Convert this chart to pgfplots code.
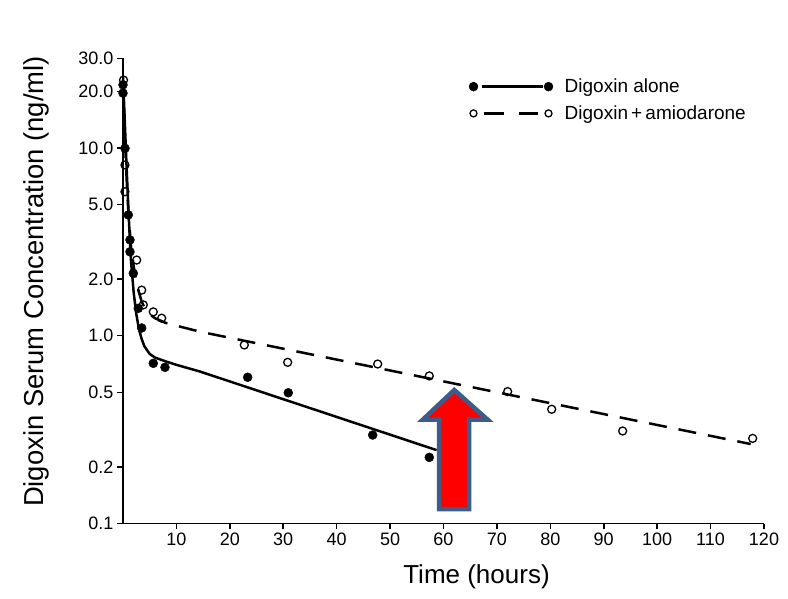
\documentclass[border=0pt]{standalone}
\usepackage{pgfplots}
\pgfplotsset{compat=1.18}
\usepackage{fontspec}
\setmainfont{Liberation Sans}
\definecolor{arrowred}{RGB}{255,0,0}
\definecolor{arrowedge}{RGB}{62,92,138}

\begin{document}
\begin{tikzpicture}
% page = 788 x 598 px, axis box from (123,523.5) to (764,58.4)
\useasboundingbox (-123pt,-74.5pt) rectangle (665pt,523.5pt);
\begin{axis}[
  scale only axis, width=641pt, height=465.1pt,
  xmin=0, xmax=120, ymode=log, ymin=0.1, ymax=30,
  clip=false,
  axis x line*=bottom, axis y line*=left,
  axis line style={line width=1.8pt, -},
  tick align=outside,
  xtick={10,20,...,120},
  ytick={0.1,0.2,0.5,1,2,5,10,20,30},
  yticklabels={0.1,0.2,0.5,1.0,2.0,5.0,10.0,20.0,30.0},
  minor y tick style={draw=none},
  major tick length=6pt,
  tick style={line width=1.5pt, black},
  tick label style={font=\fontsize{18}{20}\selectfont},
  /pgf/number format/assume math mode=true,
  xlabel={Time (hours)},
  ylabel={Digoxin Serum Concentration (ng/ml)},
  xlabel style={font=\fontsize{26}{30}\selectfont,
    at={(axis description cs:0.5515,-0.1144)}, anchor=center},
  ylabel style={font=\fontsize{27.4}{31}\selectfont,
    at={(axis description cs:-0.1357,0.5203)}, anchor=center},
  legend style={draw=none, fill=none, inner sep=0pt, outer sep=0pt,
    at={(axis description cs:0.5395,0.960)}, anchor=north west,
    row sep=7.5pt, font=\fontsize{19}{22}\selectfont},
  legend cell align=left,
]
% fitted curves
\addplot[black, line width=2.5pt, forget plot] coordinates {
  (0,24) (0.25,16) (0.5,10.5) (0.75,7) (1,4.8) (1.25,3.4) (1.5,2.5)
  (2,1.7) (2.5,1.3) (3,1.08) (3.5,0.96) (4,0.88) (5,0.8) (6,0.765)
  (8,0.73) (10,0.70) (14.4,0.645) (58.7,0.246)};
\addplot[black, line width=2.5pt, dash pattern=on 18pt off 12pt, forget plot] coordinates {
  (0,23) (0.25,14) (0.5,9) (0.75,6.2) (1,4.6) (1.5,3.0) (2,2.35)
  (2.5,1.95) (3,1.7) (3.5,1.52) (4,1.42) (5,1.3) (6,1.24) (8,1.17)
  (14.4,1.051) (117.5,0.265)};
% digoxin + amiodarone
\addplot[only marks, mark=o, mark size=4pt, line width=1.3pt, black,
  mark options={fill=white}, forget plot] coordinates {
  (0.1,23) (0.37,8.12) (0.37,5.85) (2.56,2.53) (3.5,1.75) (3.8,1.46)
  (5.67,1.34) (7.24,1.24) (22.71,0.893) (30.83,0.722) (47.68,0.707)
  (57.34,0.611) (72.01,0.504) (80.25,0.406) (93.54,0.311) (117.88,0.284)};
% digoxin alone
\addplot[only marks, mark=*, mark size=4.5pt, black, forget plot] coordinates {
  (0,21.7) (0,19.6) (0.37,9.96) (0.99,4.40) (1.31,3.24) (1.31,2.80)
  (1.93,2.15) (2.86,1.40) (3.5,1.10) (5.67,0.713) (7.86,0.679)
  (23.34,0.601) (30.94,0.497) (46.74,0.296) (57.34,0.225)};

\addlegendimage{legend image code/.code={
  \draw[line width=2.5pt] (8pt,0pt) -- (69pt,0pt);
  \fill (0pt,0pt) circle (4.5pt);
  \fill (75pt,0pt) circle (4.5pt);
  \path (89pt,0pt);}}
\addlegendentry{Digoxin alone}
\addlegendimage{legend image code/.code={
  \draw[line width=2.5pt] (10pt,0pt) -- (30pt,0pt);
  \draw[line width=2.5pt] (45pt,0pt) -- (64pt,0pt);
  \draw[line width=1.3pt] (0pt,0pt) circle (3.5pt);
  \draw[line width=1.3pt] (75pt,0pt) circle (3.5pt);
  \path (89pt,0pt);}}
\addlegendentry{Digoxin\,+\,amiodarone}

% annotation arrow
\draw[fill=arrowred, draw=arrowedge, line width=4.5pt, line join=miter]
  (axis cs:62.02,0.514) -- (axis cs:68.23,0.358) -- (axis cs:64.81,0.358)
  -- (axis cs:64.81,0.1192) -- (axis cs:59.19,0.1192) -- (axis cs:59.19,0.358)
  -- (axis cs:56.16,0.358) -- cycle;
\end{axis}
\end{tikzpicture}
\end{document}
